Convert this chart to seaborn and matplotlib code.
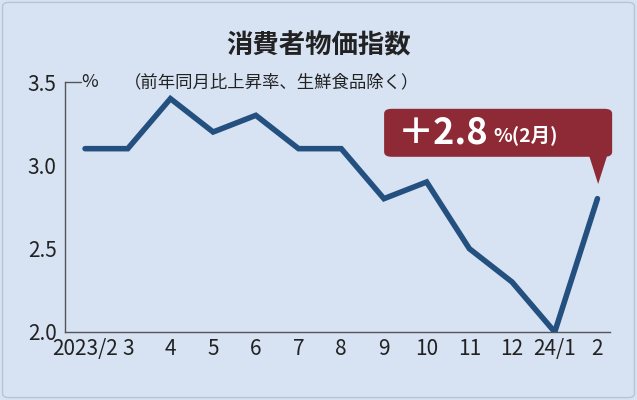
import matplotlib
matplotlib.use("Agg")
import matplotlib.pyplot as plt
import seaborn as sns
import pandas as pd
from matplotlib.patches import FancyBboxPatch, Polygon

months = ["2023/2","3","4","5","6","7","8","9","10","11","12","24/1","2"]
values = [3.1,3.1,3.4,3.2,3.3,3.1,3.1,2.8,2.9,2.5,2.3,2.0,2.8]
yticks = [2.0,2.5,3.0,3.5]

sns.set_style("white")
plt.rcParams['font.family'] = ['Noto Sans CJK JP', 'DejaVu Sans']
bg = "#d7e2f3"
fig = plt.figure(figsize=(6.37,4.0), dpi=100, facecolor=bg)
fig.patches.append(FancyBboxPatch((0.004,0.006),0.992,0.988, boxstyle="round,pad=0,rounding_size=0.01",
    transform=fig.transFigure, fc=bg, ec="#b8c4d6", lw=1, zorder=-5))
ax = fig.add_axes([0.102,0.17,0.856,0.625])
ax.set_facecolor(bg)
df = pd.DataFrame({"x":range(len(months)),"y":values})
sns.lineplot(data=df, x="x", y="y", ax=ax, color="#24507f", lw=4, solid_capstyle="round", solid_joinstyle="miter")
ax.set_xlim(-0.47,12.3)
ax.set_ylim(2.0,3.5)
ax.set_xticks(range(len(months)))
ax.set_xticklabels(months)
ax.set_yticks(yticks)
ax.set_yticklabels([f"{v:.1f}" for v in yticks])
for s in ["top","right"]:
    ax.spines[s].set_visible(False)
for s in ["left","bottom"]:
    ax.spines[s].set_color("#555555"); ax.spines[s].set_linewidth(1)
ax.tick_params(axis="both", direction="in", length=6, color="#555555", labelsize=15, labelcolor="#222222", pad=4)
ax.tick_params(axis="y", pad=6)
ax.set_xlabel(""); ax.set_ylabel("")
ax.plot([-0.47,-0.1],[3.5,3.5], color="#555555", lw=1, clip_on=False)

fig.text(0.5,0.885,"消費者物価指数", ha="center", va="center", fontsize=19, fontweight="bold", color="#222222")
fig.text(0.128,0.795,"%", ha="left", va="center", fontsize=13, color="#222222")
fig.text(0.195,0.795,"（前年同月比上昇率、生鮮食品除く）", ha="left", va="center", fontsize=12.5, color="#222222")

red = "#8e2a36"
fig.patches.append(FancyBboxPatch((0.603,0.608),0.358,0.12, boxstyle="round,pad=0,rounding_size=0.012",
    transform=fig.transFigure, fc=red, ec="none", zorder=5))
fig.patches.append(Polygon([(0.925,0.61),(0.953,0.61),(0.939,0.54)], closed=True, transform=fig.transFigure, fc=red, ec="none", zorder=5))
fig.text(0.625,0.668,"＋2.8", ha="left", va="center", fontsize=26, fontweight="bold", color="white", zorder=6)
fig.text(0.775,0.662,"%(2月)", ha="left", va="center", fontsize=14, fontweight="bold", color="white", zorder=6)

fig.savefig("out.png", dpi=100, facecolor=bg)
